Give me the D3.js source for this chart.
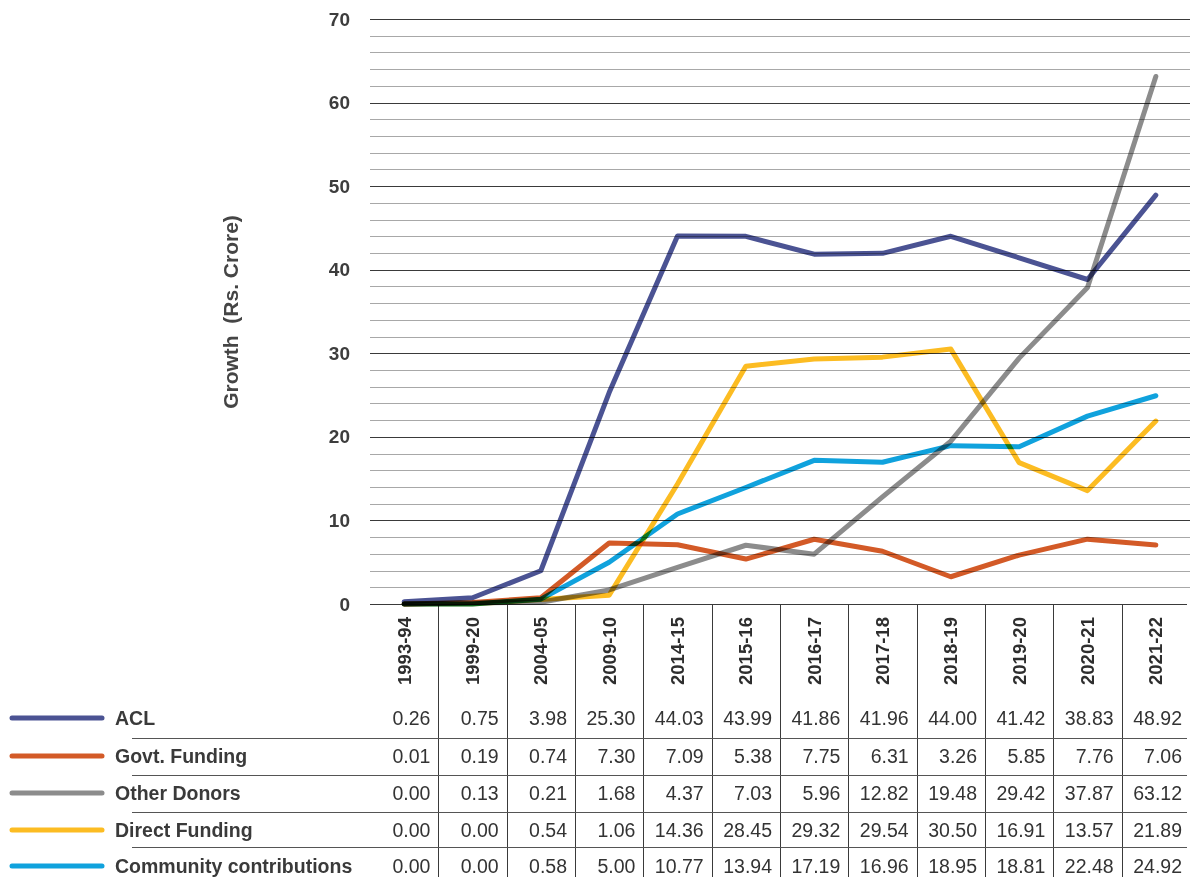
<!DOCTYPE html>
<html>
<head>
<meta charset="utf-8">
<script src="https://cdn.jsdelivr.net/npm/d3@7"></script>
<style>
  html, body { margin: 0; padding: 0; background: #fff; }
  svg { display: block; }
  text { font-family: "Liberation Sans", Arial, Helvetica, sans-serif; }
</style>
</head>
<body>
<svg id="chart" width="1190" height="877"></svg>
<script>
const categories = ["1993-94","1999-20","2004-05","2009-10","2014-15","2015-16","2016-17","2017-18","2018-19","2019-20","2020-21","2021-22"];
const seriesNames = ["ACL","Govt. Funding","Other Donors","Direct Funding","Community contributions"];
const acl       = [0.26,0.75,3.98,25.30,44.03,43.99,41.86,41.96,44.00,41.42,38.83,48.92];
const govt      = [0.01,0.19,0.74,7.30,7.09,5.38,7.75,6.31,3.26,5.85,7.76,7.06];
const other     = [0.00,0.13,0.21,1.68,4.37,7.03,5.96,12.82,19.48,29.42,37.87,63.12];
const direct    = [0.00,0.00,0.54,1.06,14.36,28.45,29.32,29.54,30.50,16.91,13.57,21.89];
const community = [0.00,0.00,0.58,5.00,10.77,13.94,17.19,16.96,18.95,18.81,22.48,24.92];
const colors = ["#4b5393","#d35a27","#8c8c8c","#fcbc22","#10a2dd"];
const yTicks = [0,10,20,30,40,50,60,70];
const yTitle = "Growth\u00a0\u00a0(Rs. Crore)";

const seriesValues = [acl, govt, other, direct, community];

const svg = d3.select("#chart");
const plotLeft = 370, plotRight = 1190, plotTop = 19, plotBottom = 604;

const x = d3.scaleBand().domain(categories).range([plotLeft, plotRight]).padding(0);
const y = d3.scaleLinear().domain([0, 70]).range([plotBottom, plotTop]);

// Gridlines (every 2, major every 10)
const grid = svg.append("g");
d3.range(2, 71, 2).forEach(v => {
  const major = v % 10 === 0;
  grid.append("line")
    .attr("x1", plotLeft).attr("x2", plotRight)
    .attr("y1", Math.round(y(v)) + 0.5).attr("y2", Math.round(y(v)) + 0.5)
    .attr("stroke", major ? "#3a3a3a" : "#a8a8a8")
    .attr("stroke-width", 1);
});

// Y axis labels
const yAxis = d3.axisLeft(y).tickValues(yTicks).tickSize(0).tickPadding(0);
const yG = svg.append("g").attr("transform", `translate(350,0)`).call(yAxis);
yG.select(".domain").remove();
yG.selectAll("text")
  .attr("font-size", "19px")
  .attr("font-weight", "bold")
  .attr("fill", "#3d3d3d")
  .attr("font-family", "'Liberation Sans', Arial, sans-serif");

// Y title
svg.append("text")
  .attr("transform", `translate(238,312) rotate(-90)`)
  .attr("text-anchor", "middle")
  .attr("font-size", "21px")
  .attr("font-weight", "bold")
  .attr("fill", "#454545")
  .text(yTitle);

// Table structure
const table = svg.append("g");
table.append("line")
  .attr("x1", plotLeft).attr("x2", plotRight - 3)
  .attr("y1", plotBottom + 0.5).attr("y2", plotBottom + 0.5)
  .attr("stroke", "#3a3a3a").attr("stroke-width", 1.2);
categories.slice(1).forEach(c => {
  const xx = Math.round(x(c)) + 0.5;
  table.append("line")
    .attr("x1", xx).attr("x2", xx)
    .attr("y1", plotBottom).attr("y2", 877)
    .attr("stroke", "#3a3a3a").attr("stroke-width", 1);
});
const rowY = [718, 756, 793, 830, 866];
const sepY = [738, 775, 812, 847];
sepY.forEach(sy => {
  table.append("line")
    .attr("x1", 132).attr("x2", plotRight - 3)
    .attr("y1", sy + 0.5).attr("y2", sy + 0.5)
    .attr("stroke", "#555").attr("stroke-width", 1);
});

// Category labels (rotated)
categories.forEach(c => {
  const cx = x(c) + x.bandwidth() / 2;
  svg.append("text")
    .attr("transform", `translate(${cx + 6.5},651) rotate(-90)`)
    .attr("text-anchor", "middle")
    .attr("font-size", "18.5px")
    .attr("font-weight", "bold")
    .attr("fill", "#2e2e2e")
    .text(c);
});

// Legend + values
const fmt = d3.format(".2f");
seriesNames.forEach((name, i) => {
  const ry = rowY[i];
  svg.append("line")
    .attr("x1", 12).attr("x2", 102)
    .attr("y1", ry).attr("y2", ry)
    .attr("stroke", colors[i]).attr("stroke-width", 5)
    .attr("stroke-linecap", "round");
  svg.append("text")
    .attr("x", 115).attr("y", ry)
    .attr("dy", "0.36em")
    .attr("font-size", "19.5px")
    .attr("font-weight", "bold")
    .attr("fill", "#3a3a3a")
    .text(name);
  seriesValues[i].forEach((v, j) => {
    svg.append("text")
      .attr("x", x(categories[j]) + x.bandwidth() - 8)
      .attr("y", ry)
      .attr("dy", "0.36em")
      .attr("text-anchor", "end")
      .attr("font-size", "19.5px")
      .attr("fill", "#333")
      .text(fmt(v));
  });
});

// Lines
const line = d3.line()
  .x((d, j) => x(categories[j]) + x.bandwidth() / 2)
  .y(d => y(d));
const linesG = svg.append("g");
seriesValues.forEach((vals, i) => {
  linesG.append("path")
    .datum(vals)
    .attr("d", line)
    .attr("fill", "none")
    .attr("stroke", colors[i])
    .attr("stroke-width", 5)
    .attr("stroke-linejoin", "round")
    .attr("stroke-linecap", "round")
    .style("mix-blend-mode", "multiply");
});
</script>
</body>
</html>
